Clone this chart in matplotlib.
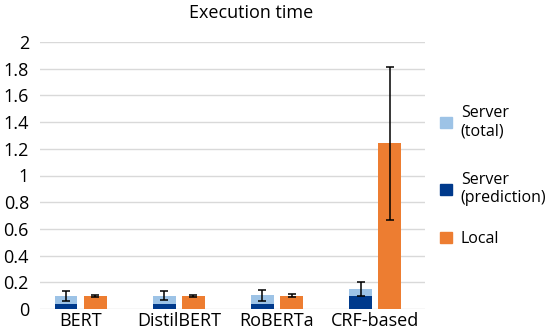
import matplotlib
matplotlib.use("Agg")
import matplotlib.pyplot as plt
from matplotlib.patches import Patch
import numpy as np

plt.rcParams['font.family'] = ['Open Sans', 'DejaVu Sans']

categories = ["BERT", "DistilBERT", "RoBERTa", "CRF-based"]
server_total = [0.100, 0.100, 0.102, 0.148]
server_total_err = [0.038, 0.035, 0.042, 0.053]
server_pred = [0.037, 0.037, 0.037, 0.100]
local = [0.100, 0.097, 0.100, 1.240]
local_err = [0.008, 0.006, 0.012, 0.575]
yticks = [0, 0.2, 0.4, 0.6, 0.8, 1, 1.2, 1.4, 1.6, 1.8, 2]
ytick_labels = ["0", "0.2", "0.4", "0.6", "0.8", "1", "1.2", "1.4", "1.6", "1.8", "2"]

c_total = "#9DC3E6"
c_pred = "#003A8C"
c_local = "#ED7D31"

W, H = 550, 336
fig = plt.figure(figsize=(W / 100, H / 100), dpi=100)
ax = fig.add_axes([40 / W, 27 / H, 385 / W, 267 / H])

x = np.arange(len(categories))
off = 0.148
bw = 0.225

ax.bar(x - off, server_total, width=bw, color=c_total, zorder=2)
ax.bar(x - off, server_pred, width=bw, color=c_pred, zorder=3)
ax.bar(x + off, local, width=bw, color=c_local, zorder=2)
ax.errorbar(x - off, server_total, yerr=server_total_err, fmt='none', ecolor='black',
            elinewidth=1.1, capsize=3, capthick=1.1, zorder=4)
ax.errorbar(x + off, local, yerr=local_err, fmt='none', ecolor='black',
            elinewidth=1.1, capsize=3, capthick=1.1, zorder=4)

ax.set_xlim(-0.418, 3.51)
ax.set_ylim(0, 2)
ax.set_yticks(yticks)
ax.set_yticklabels(ytick_labels)
ax.set_xticks(x)
ax.set_xticklabels(categories)
ax.tick_params(axis='both', length=0, labelsize=13, colors='black')
ax.tick_params(axis='y', pad=8)
ax.tick_params(axis='x', pad=2)
for s in ax.spines.values():
    s.set_visible(False)
ax.yaxis.grid(True, color="#D9D9D9", linewidth=1)
ax.set_axisbelow(True)

fig.text(251 / W, 1 - 13 / H, "Execution time", ha='center', va='center', fontsize=13)

entries = [(c_total, "Server\n(total)", 122), (c_pred, "Server\n(prediction)", 189), (c_local, "Local", 239)]
for col, lab, yy in entries:
    fig.legend(handles=[Patch(color=col)], labels=[lab], loc='center left',
               bbox_to_anchor=(440 / W, 1 - yy / H), frameon=False, fontsize=11.5,
               handlelength=0.75, handleheight=0.75, handletextpad=0.55, borderpad=0, borderaxespad=0)

fig.savefig("out.png", dpi=100)
